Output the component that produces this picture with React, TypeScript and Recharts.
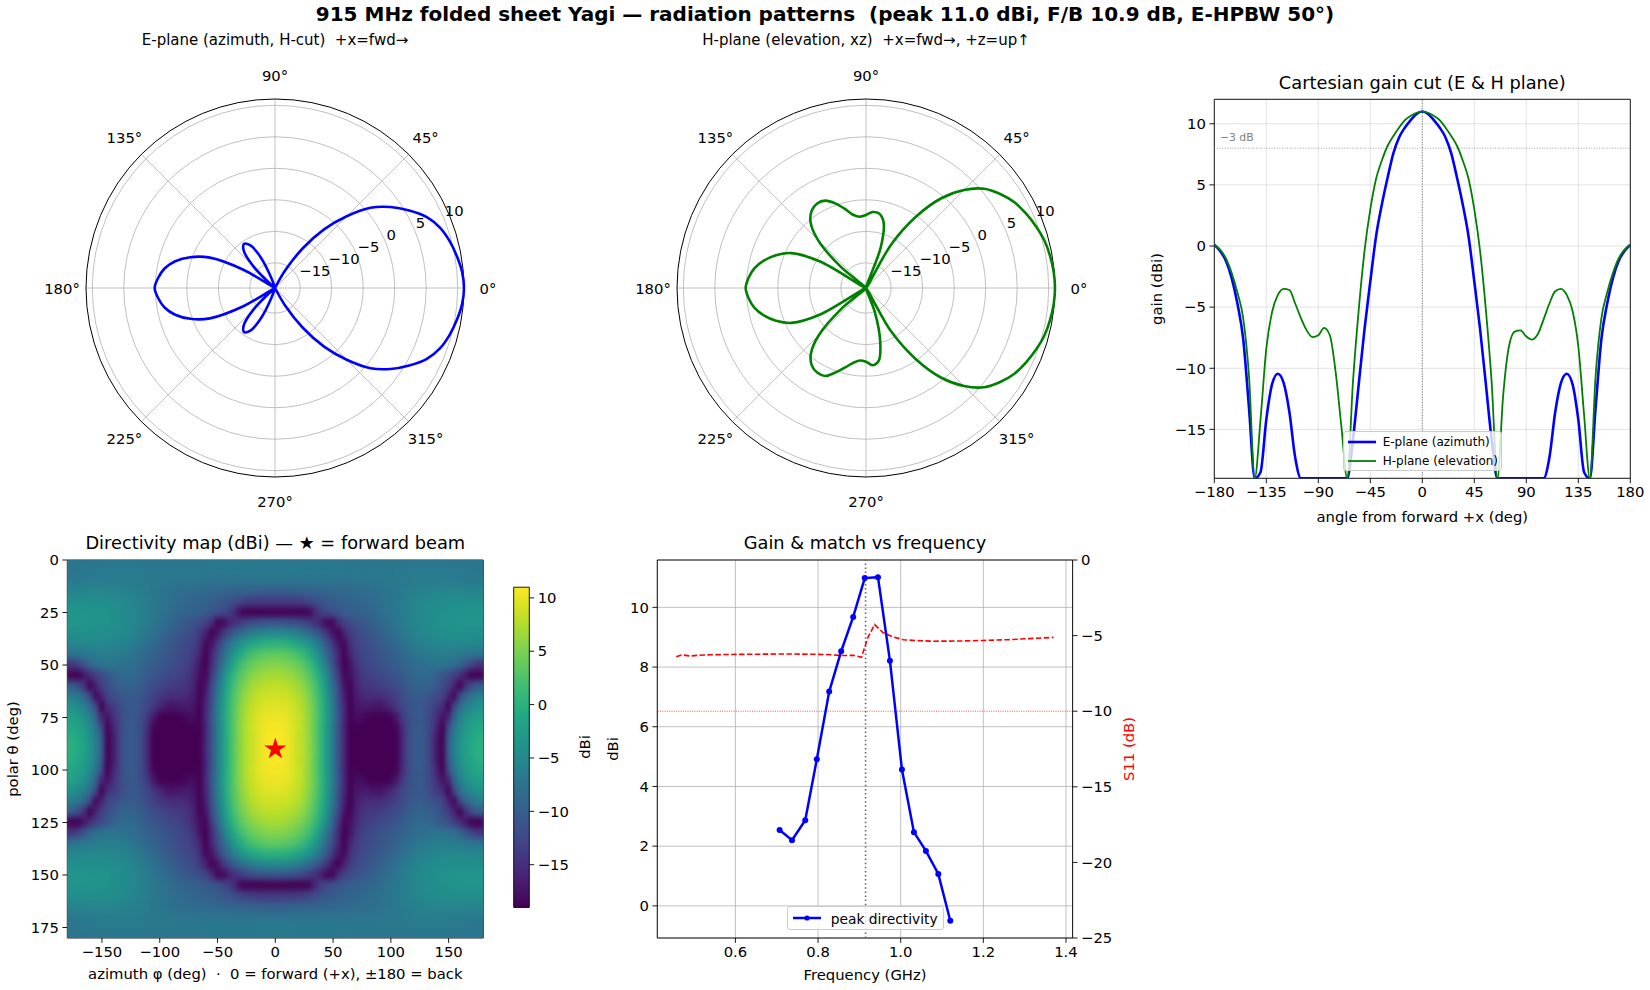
import React from 'react';
import {
  RadarChart, Radar, PolarGrid, PolarAngleAxis, PolarRadiusAxis,
  LineChart, Line, XAxis, YAxis, CartesianGrid, ReferenceLine, ReferenceArea,
  ScatterChart, Scatter, ComposedChart, Legend, Symbols,
} from 'recharts';

const FONT = '"DejaVu Sans", "Liberation Sans", sans-serif';

// ---------------- data: pattern cuts (dBi, clipped at -19) ----------------
const CUT_ANGLES = [
  -180, -175, -170, -165, -160, -155, -150, -145, -140, -135, -130, -125, -120, -115, -110, -105,
  -100, -95, -90, -85, -80, -75, -70, -65, -60, -55, -50, -45, -40, -35, -30, -25, -20, -15, -10, -5,
  0, 5, 10, 15, 20, 25, 30, 35, 40, 45, 50, 55, 60, 65, 70, 75, 80, 85, 90, 95, 100, 105, 110, 115,
  120, 125, 130, 135, 140, 145, 150, 155, 160, 165, 170, 175, 180,
];
const E_PLANE = [
  0.1, -0.4, -1.2, -2.6, -4.7, -7.6, -13.2, -19, -18.5, -14.2, -11.3, -10.45, -11.2, -13.6, -17.3, -19,
  -19, -19, -19, -19, -19, -19, -19, -19, -15.8, -11.3, -6.8, -2.9, 0.8, 3.4, 5.6, 7.6, 8.9, 9.7, 10.3, 10.8,
  11.0, 10.8, 10.3, 9.7, 8.9, 7.6, 5.6, 3.4, 0.8, -2.9, -6.8, -11.3, -15.8, -19, -19, -19, -19, -19, -19, -19, -19, -19, -17.3, -13.6,
  -11.2, -10.45, -11.3, -14.2, -18.5, -19, -13.2, -7.6, -4.7, -2.6, -1.2, -0.4, 0.1,
];
const H_PLANE = [
  0.1, -0.3, -1.0, -2.2, -3.8, -5.9, -10.6, -19, -14.2, -8.4, -5.4, -4.0, -3.5, -3.6, -4.7, -5.9,
  -6.9, -7.45, -7.3, -6.7, -7.3, -10.3, -14.8, -19, -11.1, -5.2, -0.4, 3.0, 5.5, 7.0, 8.2, 9.0, 9.7, 10.3, 10.65, 10.9,
  11.0, 10.9, 10.65, 10.3, 9.7, 9.0, 8.2, 7.0, 5.5, 3.0, -0.4, -5.2, -11.1, -19, -12.2, -8.2, -7.0, -6.9, -7.4, -7.65, -7.2, -6.0, -4.7, -3.7,
  -3.5, -4.0, -5.3, -8.2, -13.8, -19, -10.6, -5.9, -3.8, -2.2, -1.0, -0.3, 0.1,
];

// ---------------- data: frequency sweep ----------------
const FREQ_PEAK_GHZ = [0.707, 0.737, 0.769, 0.797, 0.827, 0.856, 0.885, 0.913, 0.945, 0.974, 1.003, 1.032, 1.061, 1.091, 1.120];
const PEAK_DIR_DBI = [2.54, 2.20, 2.87, 4.91, 7.18, 8.53, 9.68, 10.98, 11.01, 8.21, 4.57, 2.47, 1.84, 1.07, -0.50];
const FREQ_S11_GHZ = [0.457, 0.47, 0.49, 0.51, 0.54, 0.58, 0.62, 0.66, 0.70, 0.74, 0.78, 0.82, 0.86, 0.885, 0.905, 0.921, 0.937, 0.957, 0.98, 1.006, 1.04, 1.08, 1.14, 1.2, 1.26, 1.31, 1.37];
const S11_DB = [-6.4, -6.27, -6.35, -6.3, -6.27, -6.25, -6.24, -6.23, -6.22, -6.22, -6.23, -6.25, -6.32, -6.3, -6.43, -5.1, -4.27, -4.8, -5.07, -5.27, -5.33, -5.37, -5.36, -5.32, -5.27, -5.2, -5.12];
const DESIGN_FREQ_GHZ = 0.915;
const S11_LIMIT_DB = -10;
const HPBW_LEVEL_DBI = 8.0;

// ---------------- data: directivity map quadrant (theta 0..90, phi 0..180), mirrored ----------------
const HM_THETA_Q = [0, 5, 10, 15, 20, 25, 30, 35, 40, 45, 50, 55, 60, 65, 70, 75, 80, 85, 90];
const HM_PHI_Q = [0, 5, 10, 15, 20, 25, 30, 35, 40, 45, 50, 55, 60, 65, 70, 75, 80, 85, 90, 95, 100, 105, 110, 115, 120, 125, 130, 135, 140, 145, 150, 155, 160, 165, 170, 175, 180];
const HM_Q = [
  [-7.2, -7.2, -7.2, -7.2, -7.2, -7.2, -7.2, -7.2, -7.2, -7.2, -7.2, -7.2, -7.2, -7.2, -7.2, -7.2, -7.2, -7.2, -7.2, -7.2, -7.2, -7.2, -7.2, -7.2, -7.2, -7.2, -7.2, -7.2, -7.2, -7.2, -7.2, -7.2, -7.2, -7.2, -7.2, -7.2, -7.2],
  [-6.7, -6.7, -6.7, -6.7, -6.8, -6.8, -6.8, -6.8, -6.8, -6.8, -6.8, -6.8, -6.9, -6.9, -6.9, -6.9, -7.0, -7.0, -7.0, -7.0, -7.0, -6.9, -6.9, -6.9, -6.8, -6.8, -6.8, -6.8, -6.8, -6.8, -6.9, -6.9, -7.0, -7.1, -7.2, -7.3, -7.3],
  [-7.6, -7.6, -7.6, -7.6, -7.6, -7.6, -7.6, -7.6, -7.6, -7.6, -7.6, -7.6, -7.6, -7.6, -7.5, -7.5, -7.4, -7.3, -7.2, -7.1, -7.0, -6.9, -6.8, -6.8, -6.7, -6.7, -6.6, -6.6, -6.6, -6.6, -6.7, -6.7, -6.7, -6.8, -6.8, -6.8, -6.8],
  [-10.2, -10.2, -10.1, -10, -9.9, -9.8, -9.6, -9.5, -9.3, -9.2, -9, -8.9, -8.8, -8.7, -8.6, -8.5, -8.3, -8.1, -7.9, -7.6, -7.3, -7, -6.7, -6.4, -6.1, -5.9, -5.7, -5.6, -5.5, -5.5, -5.5, -5.5, -5.5, -5.6, -5.6, -5.6, -5.6],
  [-14, -14, -14, -13.9, -13.7, -13.4, -12.8, -12, -11.3, -10.8, -10.4, -10.1, -9.8, -9.5, -9.3, -9.0, -8.8, -8.4, -8.1, -7.7, -7.3, -6.9, -6.4, -6.0, -5.6, -5.3, -5.0, -4.8, -4.6, -4.5, -4.4, -4.3, -4.3, -4.3, -4.3, -4.3, -4.3],
  [-19, -19, -19, -19, -19, -19, -18.5, -15.5, -13.5, -12.3, -11.5, -11, -10.4, -10.1, -9.8, -9.5, -9.2, -8.9, -8.5, -8.0, -7.5, -7.0, -6.5, -6.0, -5.5, -5.1, -4.8, -4.5, -4.2, -4.0, -3.9, -3.8, -3.7, -3.6, -3.6, -3.6, -3.6],
  [-11, -11, -11.2, -11.5, -12, -12.8, -13.8, -15, -16.5, -18.5, -18.5, -15, -13.2, -12.2, -11.5, -11.0, -10.4, -9.8, -9.2, -8.5, -7.8, -7.2, -6.6, -6.0, -5.5, -5.1, -4.7, -4.4, -4.1, -3.9, -3.8, -3.7, -3.6, -3.5, -3.5, -3.5, -3.5],
  [-4.9, -4.9, -5.2, -5.65, -6.3, -7.3, -8.6, -10.2, -12.2, -14.5, -17.5, -19, -16, -14, -12.5, -11.8, -11.2, -10.6, -10, -9.3, -8.6, -7.9, -7.2, -6.5, -5.9, -5.5, -5.1, -4.8, -4.6, -4.4, -4.3, -4.2, -4.2, -4.2, -4.2, -4.2, -4.2],
  [0.1, 0, -0.25, -0.8, -1.6, -2.5, -3.9, -5.8, -8.2, -11, -14.2, -17.5, -18.5, -15, -13.2, -12.5, -11.9, -11.3, -10.7, -10.1, -9.4, -8.7, -8, -7.4, -6.8, -6.3, -5.9, -5.6, -5.3, -5.1, -5.0, -5.0, -5.0, -5.1, -5.2, -5.3, -5.3],
  [3.6, 3.5, 3.15, 2.65, 1.9, 0.75, -0.95, -3.1, -5.8, -9.0, -12.5, -16, -19, -16, -14, -13, -12.4, -11.9, -11.3, -10.8, -10.3, -9.7, -9.1, -8.4, -7.7, -7.2, -6.8, -6.5, -6.4, -6.4, -6.5, -6.7, -6.9, -7.2, -7.4, -7.6, -7.6],
  [5.5, 5.4, 5.1, 4.65, 3.95, 2.85, 1.3, -0.7, -3.8, -7.2, -11.4, -15.7, -19, -17.5, -14.8, -13.5, -12.8, -12.2, -11.6, -11.1, -10.6, -10.1, -9.6, -9.1, -8.6, -8.2, -7.9, -7.6, -7.4, -7.4, -7.6, -8.3, -9.2, -11.2, -13, -14.2, -14.5],
  [6.9, 6.85, 6.55, 6.1, 5.45, 4.4, 2.95, 0.9, -1.7, -5.2, -9.5, -14, -18.6, -17.8, -15.8, -14.3, -13.5, -13, -12.6, -12.2, -11.7, -11.1, -10.5, -9.8, -9.1, -8.7, -8.7, -9.1, -9.9, -11, -12, -13.5, -15, -17, -19, -19, -18.5],
  [8.1, 7.9, 7.7, 7.25, 6.65, 5.55, 4.1, 2.1, -0.5, -4.0, -8.2, -12.7, -17.5, -18.8, -16.2, -14.8, -14.2, -13.9, -13.6, -13.1, -12.6, -12, -11.3, -10.5, -9.8, -9.4, -9.5, -9.9, -10.7, -12, -13.5, -16, -19, -15, -12, -10.5, -10],
  [8.9, 8.85, 8.65, 8.25, 7.5, 6.5, 4.9, 2.85, 0.2, -3.2, -7.3, -11.9, -16.4, -19, -16.8, -15.8, -15.2, -15.2, -15.2, -14.7, -14, -13.2, -12.2, -11.2, -10.6, -10.4, -10.6, -11.2, -12, -13, -16, -18.5, -12.5, -9.4, -7.5, -6.5, -6.2],
  [9.7, 9.6, 9.35, 8.85, 8.2, 7.0, 5.5, 3.3, 0.6, -2.7, -6.8, -11.5, -16, -19, -17.3, -16.8, -16.8, -17.2, -17.4, -16.8, -15.6, -14.2, -12.8, -11.6, -10.9, -10.8, -11.3, -12.5, -14, -15, -19, -12.5, -8.6, -6.2, -4.9, -4.0, -3.7],
  [10.25, 10.2, 9.9, 9.35, 8.5, 7.4, 5.7, 3.5, 0.7, -2.5, -6.7, -11, -15.7, -19, -18, -18, -18.8, -19, -19, -19, -18.8, -17, -14.2, -12.1, -11, -10.8, -11.5, -13, -15, -17.5, -16, -9.4, -6.2, -4.2, -3.0, -2.3, -2.1],
  [10.65, 10.55, 10.2, 9.55, 8.7, 7.5, 5.8, 3.4, 0.6, -2.7, -6.9, -11.3, -16, -19, -18.8, -19, -19, -19, -19, -19, -19, -18.7, -15.5, -12.5, -11, -10.6, -11.2, -13.2, -16, -19, -12, -7.5, -4.9, -3.0, -1.9, -1.2, -0.95],
  [10.9, 10.85, 10.35, 9.5, 8.5, 7.5, 5.8, 3.5, 0.5, -2.7, -6.9, -11.4, -16, -19, -19, -19, -19, -19, -19, -19, -19, -19, -16, -12.5, -11, -10.5, -11, -13.5, -17, -19, -10.5, -6.5, -4.0, -2.3, -1.2, -0.5, -0.2],
  [11, 10.9, 10.4, 9.6, 8.6, 7.6, 5.9, 3.6, 0.6, -2.6, -6.8, -11.3, -15.8, -19, -19, -19, -19, -19, -19, -19, -19, -19, -16, -12.5, -11, -10.4, -11, -13.5, -17, -19, -10, -6.3, -3.8, -2, -0.8, -0.1, 0.1],
];
const FORWARD_BEAM = [{ phi: 0, theta: 90 }];

// ---------------- ticks ----------------
const POLAR_ANGLE_TICKS = [0, 45, 90, 135, 180, 225, 270, 315];
const POLAR_R_TICKS = [-15, -10, -5, 0, 5, 10];
const CUT_X_TICKS = [-180, -135, -90, -45, 0, 45, 90, 135, 180];
const CUT_Y_TICKS = [-15, -10, -5, 0, 5, 10];
const HM_X_TICKS = [-150, -100, -50, 0, 50, 100, 150];
const HM_Y_TICKS = [0, 25, 50, 75, 100, 125, 150, 175];
const CB_TICKS = [-15, -10, -5, 0, 5, 10];
const F_X_TICKS = [0.6, 0.8, 1.0, 1.2, 1.4];
const F_YL_TICKS = [0, 2, 4, 6, 8, 10];
const F_YR_TICKS = [-25, -20, -15, -10, -5, 0];

// ---------------- derived tables ----------------
const cutRows = CUT_ANGLES.map((a, i) => ({ a, e: E_PLANE[i], h: H_PLANE[i] }));
const polarRows = CUT_ANGLES
  .map((a, i) => ({ a, i }))
  .filter((p) => p.a !== 180)
  .map((p) => ({ ang: p.a < 0 ? p.a + 360 : p.a, e: E_PLANE[p.i], h: H_PLANE[p.i] }))
  .sort((p, q) => p.ang - q.ang);
const peakRows = FREQ_PEAK_GHZ.map((f, i) => ({ f, d: PEAK_DIR_DBI[i] }));
const s11Rows = FREQ_S11_GHZ.map((f, i) => ({ f, s: S11_DB[i] }));

const hmRows: { phi: number; theta: number; v: number }[] = [];
const thetaFull = [...HM_THETA_Q, ...HM_THETA_Q.slice(0, -1).reverse().map((t) => 180 - t)];
const phiFull = [...HM_PHI_Q.slice(1).reverse().map((p) => -p), ...HM_PHI_Q];
thetaFull.forEach((theta) => {
  const ri = HM_THETA_Q.indexOf(theta <= 90 ? theta : 180 - theta);
  phiFull.forEach((phi) => {
    const ci = HM_PHI_Q.indexOf(Math.abs(phi));
    hmRows.push({ phi, theta, v: HM_Q[ri][ci] });
  });
});

// ---------------- style helpers ----------------
const VMIN = -19;
const VMAX = 11;
const VIRIDIS = ['#440154', '#482475', '#414487', '#355f8d', '#2a788e', '#21918c', '#22a884', '#44bf70', '#7ad151', '#bddf26', '#fde725'];
const hexRgb = (c: string) => [1, 3, 5].map((k) => parseInt(c.slice(k, k + 2), 16));
const viridis = (v: number) => {
  const t = Math.max(0, Math.min(1, (v - VMIN) / (VMAX - VMIN)));
  const s = t * 10;
  const i = Math.min(9, Math.floor(s));
  const f = s - i;
  const a = hexRgb(VIRIDIS[i]);
  const b = hexRgb(VIRIDIS[i + 1]);
  const c = a.map((x, k) => Math.round(x + (b[k] - x) * f));
  return `rgb(${c[0]},${c[1]},${c[2]})`;
};
const fmt = (v: number) => (v < 0 ? '\u2212' + Math.abs(v) : String(v));

const TICK = 14.8;
const tickStyle = { fill: '#000', fontSize: TICK };
const tickLineStyle = { stroke: '#000', strokeWidth: 0.9 };

const HM_PLOT_W = 416;
const HM_PLOT_H = 378;
const CELL_W = HM_PLOT_W / 72;
const CELL_H = HM_PLOT_H / 36;

const HeatCell = (p: any) => (
  <rect
    x={p.cx - CELL_W / 2 - 0.4}
    y={p.cy - CELL_H / 2 - 0.4}
    width={CELL_W + 0.8}
    height={CELL_H + 0.8}
    fill={viridis(p.payload.v)}
  />
);
const StarShape = (p: any) => <Symbols cx={p.cx} cy={p.cy} type="star" size={150} fill="#ff0000" stroke="none" />;

// smooth closed curve (centripetal Catmull-Rom) through the points recharts computed
const smoothClosedPath = (pts: { x: number; y: number }[]) => {
  const n = pts.length;
  if (!n) return '';
  let d = `M${pts[0].x},${pts[0].y}`;
  for (let i = 0; i < n; i++) {
    const p0 = pts[(i - 1 + n) % n];
    const p1 = pts[i];
    const p2 = pts[(i + 1) % n];
    const p3 = pts[(i + 2) % n];
    const l01 = Math.hypot(p1.x - p0.x, p1.y - p0.y);
    const l12 = Math.hypot(p2.x - p1.x, p2.y - p1.y);
    const l23 = Math.hypot(p3.x - p2.x, p3.y - p2.y);
    const a01 = Math.sqrt(l01);
    const a12 = Math.sqrt(l12);
    const a23 = Math.sqrt(l23);
    let c1x = p1.x, c1y = p1.y, c2x = p2.x, c2y = p2.y;
    if (a01 > 1e-6 && a12 > 1e-6) {
      const a = 2 * l01 + 3 * a01 * a12 + l12;
      const m = 3 * a01 * (a01 + a12);
      c1x = (p1.x * a - p0.x * l12 + p2.x * l01) / m;
      c1y = (p1.y * a - p0.y * l12 + p2.y * l01) / m;
    }
    if (a23 > 1e-6 && a12 > 1e-6) {
      const b = 2 * l23 + 3 * a23 * a12 + l12;
      const m = 3 * a23 * (a23 + a12);
      c2x = (p2.x * b + p1.x * l23 - p3.x * l12) / m;
      c2y = (p2.y * b + p1.y * l23 - p3.y * l12) / m;
    }
    d += `C${c1x},${c1y} ${c2x},${c2y} ${p2.x},${p2.y}`;
  }
  return d + 'Z';
};

const AngleTick = (p: any) => (
  <text x={p.x} y={p.y} textAnchor="middle" dominantBaseline="central" fontSize={TICK} fill="#000">
    {p.payload.value}°
  </text>
);
const RadTick = (p: any) => (
  <text x={p.x + 1} y={p.y - 8} textAnchor="start" dominantBaseline="central" fontSize={TICK} fill="#000">
    {fmt(p.payload.value)}
  </text>
);

function Txt({ x, y, children, size = TICK, weight = 400, rotate = 0, color = '#000' }: any) {
  return (
    <div
      style={{
        position: 'absolute', left: x, top: y, transform: `translate(-50%, -50%) rotate(${rotate}deg)`,
        fontSize: size, fontWeight: weight, color, whiteSpace: 'pre', lineHeight: 1,
      }}
    >
      {children}
    </div>
  );
}

function PolarPanel({ dataKey, color, left, top }: any) {
  const shape = (props: any) => (
    <path d={smoothClosedPath(props.points || [])} fill="none" stroke={color} strokeWidth={2.6} strokeLinejoin="round" />
  );
  return (
    <div style={{ position: 'absolute', left, top }}>
      <RadarChart
        width={480} height={480} data={polarRows} cx={240} cy={240}
        outerRadius={189} innerRadius={0} startAngle={0} endAngle={360}
        margin={{ top: 0, right: 0, bottom: 0, left: 0 }}
      >
        <PolarGrid gridType="circle" polarAngles={POLAR_ANGLE_TICKS} stroke="#b0b0b0" strokeWidth={0.8} />
        <PolarGrid gridType="circle" polarAngles={[]} polarRadius={[189]} radialLines={false} stroke="#000" strokeWidth={1} />
        <PolarAngleAxis
          dataKey="ang" type="number" domain={[0, 360]} ticks={POLAR_ANGLE_TICKS}
          tick={AngleTick} tickSize={24} tickLine={false} axisLine={false}
        />
        <PolarRadiusAxis
          angle={22.5} type="number" domain={[-19, 11]} ticks={POLAR_R_TICKS}
          tick={RadTick} axisLine={false} tickLine={false} allowDataOverflow
        />
        <Radar dataKey={dataKey} stroke={color} strokeWidth={2.6} fill="none" fillOpacity={0} dot={false} shape={shape} isAnimationActive={false} />
      </RadarChart>
    </div>
  );
}

const LegendLine = ({ color, width, dot }: any) => (
  <svg width={28} height={10} style={{ display: 'block' }}>
    <line x1={0} y1={5} x2={28} y2={5} stroke={color} strokeWidth={width} />
    {dot ? <circle cx={14} cy={5} r={2.6} fill={color} /> : null}
  </svg>
);

const CutLegend = () => (
  <div
    style={{
      position: 'relative', width: 159, height: 40, boxSizing: 'border-box', border: '1px solid #cccccc',
      borderRadius: 3, background: 'rgba(255,255,255,0.8)', fontFamily: FONT, fontSize: 12, color: '#000',
    }}
  >
    <div style={{ position: 'absolute', left: 4, top: 5.5 }}><LegendLine color="#0000ff" width={2.6} /></div>
    <div style={{ position: 'absolute', left: 39, top: 3.5, lineHeight: '14px' }}>E-plane (azimuth)</div>
    <div style={{ position: 'absolute', left: 4, top: 24 }}><LegendLine color="#008000" width={1.8} /></div>
    <div style={{ position: 'absolute', left: 39, top: 22, lineHeight: '14px' }}>H-plane (elevation)</div>
  </div>
);

const FreqLegend = () => (
  <div
    style={{
      position: 'relative', width: 157, height: 24, boxSizing: 'border-box', border: '1px solid #cccccc',
      borderRadius: 3, background: 'rgba(255,255,255,0.8)', fontFamily: FONT, fontSize: 13.8, color: '#000',
    }}
  >
    <div style={{ position: 'absolute', left: 5, top: 6 }}><LegendLine color="#0000ff" width={2.5} dot /></div>
    <div style={{ position: 'absolute', left: 43, top: 3.5, lineHeight: '16px' }}>peak directivity</div>
  </div>
);

export default function App() {
  return (
    <div
      style={{
        position: 'absolute', left: 0, top: 0, width: 1650, height: 990, background: '#fff',
        fontFamily: FONT, color: '#000', overflow: 'hidden',
      }}
    >
      <style>{`.hm-cells { filter: url(#hmBlur); clip-path: url(#hmClip); }`}</style>
      <svg width={0} height={0} style={{ position: 'absolute', left: 0, top: 0 }}>
        <defs>
          <linearGradient id="viridisV" x1="0" y1="1" x2="0" y2="0">
            {VIRIDIS.map((c, i) => (
              <stop key={c} offset={i / 10} stopColor={c} />
            ))}
          </linearGradient>
          <filter id="hmBlur" x="-5%" y="-5%" width="110%" height="110%" colorInterpolationFilters="sRGB">
            <feGaussianBlur stdDeviation="2.0 3.2" />
            <feComponentTransfer>
              <feFuncA type="table" tableValues="1 1" />
            </feComponentTransfer>
          </filter>
          <clipPath id="hmClip" clipPathUnits="userSpaceOnUse">
            <rect x={67.3} y={40} width={HM_PLOT_W} height={HM_PLOT_H} />
          </clipPath>
        </defs>
      </svg>

      <Txt x={825} y={14} size={20} weight={700}>
        {'915 MHz folded sheet Yagi — radiation patterns  (peak 11.0 dBi, F/B 10.9 dB, E-HPBW 50°)'}
      </Txt>

      {/* ---------- polar E ---------- */}
      <Txt x={275} y={40} size={15}>{'E-plane (azimuth, H-cut)  +x=fwd→'}</Txt>
      <PolarPanel dataKey="e" color="#0000ff" left={35} top={48} />

      {/* ---------- polar H ---------- */}
      <Txt x={866} y={40} size={15}>{'H-plane (elevation, xz)  +x=fwd→, +z=up↑'}</Txt>
      <PolarPanel dataKey="h" color="#008000" left={626} top={48} />

      {/* ---------- cartesian cut ---------- */}
      <Txt x={1422.3} y={83} size={17.8}>{'Cartesian gain cut (E & H plane)'}</Txt>
      <div style={{ position: 'absolute', left: 1100, top: 60 }}>
        <LineChart width={550} height={480} data={cutRows} margin={{ top: 39.3, right: 19.7, left: 54.3, bottom: 31.7 }}>
          <CartesianGrid stroke="#dcdcdc" strokeWidth={0.8} />
          <XAxis
            dataKey="a" type="number" domain={[-180, 180]} ticks={CUT_X_TICKS} tickFormatter={fmt} interval={0}
            height={30} tickSize={4.9} tickMargin={3.5} axisLine={false} tickLine={tickLineStyle} tick={tickStyle} allowDataOverflow
          />
          <YAxis
            type="number" domain={[-19, 12]} ticks={CUT_Y_TICKS} tickFormatter={fmt} interval={0}
            width={60} tickSize={4.9} tickMargin={3.5} axisLine={false} tickLine={tickLineStyle} tick={tickStyle} allowDataOverflow
          />
          <ReferenceLine x={0} stroke="#555555" strokeDasharray="1 1.6" strokeWidth={0.8} />
          <ReferenceLine y={HPBW_LEVEL_DBI} stroke="#888888" strokeDasharray="1 1.6" strokeWidth={0.8} />
          <Line dataKey="e" type="monotone" stroke="#0000ff" strokeWidth={2.6} dot={false} isAnimationActive={false} />
          <Line dataKey="h" type="monotone" stroke="#008000" strokeWidth={1.8} dot={false} isAnimationActive={false} />
          <ReferenceArea x1={-180} x2={180} y1={-19} y2={12} fill="none" fillOpacity={0} stroke="#000" strokeWidth={0.9} ifOverflow="visible" />
          <Legend
            layout="vertical" align="center" verticalAlign="middle" content={() => <CutLegend />}
            wrapperStyle={{ left: 242.7, top: 370.5, width: 159, height: 40 }}
          />
        </LineChart>
      </div>
      <div style={{ position: 'absolute', left: 1220, top: 132.5, fontSize: 10.8, color: '#808080', lineHeight: 1 }}>−3 dB</div>
      <Txt x={1422.3} y={517} size={TICK}>{'angle from forward +x (deg)'}</Txt>
      <Txt x={1157} y={289} size={TICK} rotate={-90}>{'gain (dBi)'}</Txt>

      {/* ---------- directivity map ---------- */}
      <Txt x={275.3} y={543} size={17.8}>{'Directivity map (dBi) — ★ = forward beam'}</Txt>
      <div style={{ position: 'absolute', left: 0, top: 520 }}>
        <ScatterChart width={500} height={470} margin={{ top: 40, right: 16.7, left: 17.3, bottom: 22 }}>
          <XAxis
            dataKey="phi" type="number" domain={[-180, 180]} ticks={HM_X_TICKS} tickFormatter={fmt} interval={0}
            height={30} tickSize={4.9} tickMargin={3.5} axisLine={false} tickLine={tickLineStyle} tick={tickStyle} allowDataOverflow
          />
          <YAxis
            dataKey="theta" type="number" domain={[0, 180]} reversed ticks={HM_Y_TICKS} interval={0}
            width={50} tickSize={4.9} tickMargin={3.5} axisLine={false} tickLine={tickLineStyle} tick={tickStyle} allowDataOverflow
          />
          <Scatter className="hm-cells" data={hmRows} shape={HeatCell} isAnimationActive={false} />
          <Scatter data={FORWARD_BEAM} shape={StarShape} isAnimationActive={false} />
          <ReferenceArea x1={-180} x2={180} y1={0} y2={180} fill="none" fillOpacity={0} stroke="#000" strokeWidth={0.9} ifOverflow="visible" />
        </ScatterChart>
      </div>
      <Txt x={275.3} y={974} size={TICK}>{'azimuth φ (deg)  ·  0 = forward (+x), ±180 = back'}</Txt>
      <Txt x={12.6} y={749} size={TICK} rotate={-90}>{'polar θ (deg)'}</Txt>

      {/* ---------- colorbar ---------- */}
      <div style={{ position: 'absolute', left: 500, top: 560 }}>
        <ComposedChart width={80} height={380} data={[{ x: 0, y: 0 }, { x: 1, y: 0 }]} margin={{ top: 27.2, right: 10.7, left: 13.7, bottom: 32.6 }}>
          <XAxis dataKey="x" type="number" domain={[0, 1]} hide />
          <YAxis
            orientation="right" type="number" domain={[VMIN, VMAX]} ticks={CB_TICKS} tickFormatter={fmt} interval={0}
            width={40} tickSize={4.9} tickMargin={3.5} axisLine={false} tickLine={tickLineStyle} tick={tickStyle} allowDataOverflow
          />
          <ReferenceArea x1={0} x2={1} y1={VMIN} y2={VMAX} fill="url(#viridisV)" fillOpacity={1} stroke="#000" strokeWidth={0.9} ifOverflow="visible" />
          <Line dataKey="y" stroke="none" dot={false} isAnimationActive={false} />
        </ComposedChart>
      </div>
      <Txt x={585.3} y={747} size={TICK} rotate={-90}>dBi</Txt>

      {/* ---------- frequency sweep ---------- */}
      <Txt x={865} y={543} size={17.8}>{'Gain & match vs frequency'}</Txt>
      <div style={{ position: 'absolute', left: 560, top: 520 }}>
        <ComposedChart width={570} height={470} margin={{ top: 40, right: 12.4, left: 47.3, bottom: 22 }}>
          <CartesianGrid yAxisId="l" stroke="#b0b0b0" strokeWidth={0.8} />
          <XAxis
            dataKey="f" type="number" domain={[0.411, 1.416]} ticks={F_X_TICKS} tickFormatter={(v: number) => v.toFixed(1)} interval={0}
            height={30} tickSize={4.9} tickMargin={3.5} axisLine={false} tickLine={tickLineStyle} tick={tickStyle} allowDataOverflow
          />
          <YAxis
            yAxisId="l" type="number" domain={[-1.076, 11.586]} ticks={F_YL_TICKS} interval={0}
            width={50} tickSize={4.9} tickMargin={3.5} axisLine={false} tickLine={tickLineStyle} tick={tickStyle} allowDataOverflow
          />
          <YAxis
            yAxisId="r" orientation="right" type="number" domain={[-25, 0]} ticks={F_YR_TICKS} tickFormatter={fmt} interval={0}
            width={45} tickSize={4.9} tickMargin={3.5} axisLine={false} tickLine={tickLineStyle} tick={tickStyle} allowDataOverflow
          />
          <ReferenceLine yAxisId="l" x={DESIGN_FREQ_GHZ} stroke="#666666" strokeDasharray="1.5 2.6" strokeWidth={1.6} />
          <ReferenceLine yAxisId="r" y={S11_LIMIT_DB} stroke="#ff0000" strokeDasharray="0.9 1.4" strokeWidth={0.8} />
          <Line yAxisId="r" data={s11Rows} dataKey="s" type="linear" stroke="#ff0000" strokeWidth={1.6} strokeDasharray="5.5 2.4" dot={false} isAnimationActive={false} />
          <Line
            yAxisId="l" data={peakRows} dataKey="d" type="linear" stroke="#0000ff" strokeWidth={2.5}
            dot={{ r: 3, fill: '#0000ff', stroke: '#0000ff', strokeWidth: 0 }} isAnimationActive={false}
          />
          <ReferenceArea yAxisId="l" x1={0.411} x2={1.416} y1={-1.076} y2={11.586} fill="none" fillOpacity={0} stroke="#000" strokeWidth={0.9} ifOverflow="visible" />
          <Legend
            layout="vertical" align="center" verticalAlign="middle" content={() => <FreqLegend />}
            wrapperStyle={{ left: 226.7, top: 386, width: 157, height: 24 }}
          />
        </ComposedChart>
      </div>
      <Txt x={865} y={975} size={TICK}>{'Frequency (GHz)'}</Txt>
      <Txt x={612.6} y={749} size={TICK} rotate={-90}>dBi</Txt>
      <Txt x={1129} y={749} size={TICK} rotate={-90} color="#ff0000">{'S11 (dB)'}</Txt>
    </div>
  );
}
